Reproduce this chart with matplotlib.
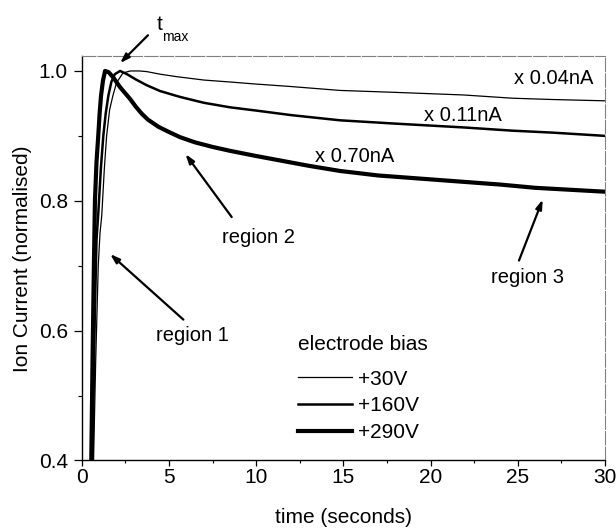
import matplotlib
matplotlib.use("Agg")
import matplotlib.pyplot as plt
from matplotlib.lines import Line2D
from matplotlib.ticker import MultipleLocator

plt.rcParams['font.family'] = ['Liberation Sans', 'DejaVu Sans']

# ---- data ----
t_290 = [0.55, 0.62, 0.70, 0.76, 0.85, 0.95, 1.03, 1.11, 1.22, 1.34, 1.55, 1.81, 2.20, 2.77,
         3.10, 3.45, 3.80, 4.40, 5.00, 5.64, 6.50, 7.50, 8.50, 10.0, 11.4, 13.0, 14.8, 17.0,
         19.5, 22.0, 24.0, 26.0, 28.0, 30.0]
y_290 = [0.40, 0.55, 0.70, 0.80, 0.86, 0.90, 0.935, 0.962, 0.985, 1.000, 0.998, 0.990, 0.975,
         0.957, 0.945, 0.934, 0.925, 0.914, 0.906, 0.898, 0.890, 0.883, 0.877, 0.869, 0.862,
         0.854, 0.846, 0.839, 0.834, 0.829, 0.825, 0.820, 0.817, 0.814]

t_160 = [0.62, 0.75, 0.85, 0.95, 1.10, 1.24, 1.38, 1.53, 1.70, 1.90, 2.20, 2.60, 3.10, 3.73,
         4.50, 5.64, 7.00, 8.50, 10.0, 12.0, 14.8, 17.9, 21.9, 24.7, 27.0, 30.0]
y_160 = [0.40, 0.62, 0.74, 0.78, 0.85, 0.90, 0.935, 0.962, 0.983, 0.995, 1.000, 0.995, 0.987,
         0.978, 0.969, 0.960, 0.951, 0.944, 0.939, 0.932, 0.924, 0.919, 0.913, 0.908, 0.905, 0.900]

t_30 = [0.68, 0.80, 0.95, 1.05, 1.15, 1.30, 1.43, 1.60, 1.79, 2.00, 2.37, 2.80, 3.30, 3.73,
        4.50, 5.50, 7.00, 8.50, 9.9, 12.0, 14.8, 18.0, 21.9, 24.7, 27.0, 30.0]
y_30 = [0.40, 0.55, 0.70, 0.75, 0.777, 0.85, 0.90, 0.94, 0.962, 0.982, 0.997, 1.000, 1.000,
        0.999, 0.995, 0.991, 0.986, 0.983, 0.980, 0.976, 0.970, 0.967, 0.963, 0.958, 0.956, 0.954]

series_labels = ['+30V', '+160V', '+290V']
scale_labels = ['x 0.04nA', 'x 0.11nA', 'x 0.70nA']
x_ticks = [0, 5, 10, 15, 20, 25, 30]
y_ticks = [0.4, 0.6, 0.8, 1.0]

# ---- figure ----
fig = plt.figure(figsize=(6.16, 5.29), dpi=100)
ax = fig.add_axes([0.1326, 0.1295, 0.8495, 0.7646])

widths = [0.9, 1.8, 3.0]
ax.plot(t_30, y_30, color='black', lw=widths[0], solid_joinstyle='round')
ax.plot(t_160, y_160, color='black', lw=widths[1], solid_joinstyle='round')
ax.plot(t_290, y_290, color='black', lw=widths[2], solid_joinstyle='round')

ax.set_xlim(0, 30)
ax.set_ylim(0.4, 1.023)
ax.set_xticks(x_ticks)
ax.set_yticks(y_ticks)
ax.set_xticklabels([str(v) for v in x_ticks])
ax.set_yticklabels([f'{v:.1f}' for v in y_ticks])
ax.xaxis.set_minor_locator(MultipleLocator(2.5))
ax.yaxis.set_minor_locator(MultipleLocator(0.1))
ax.tick_params(axis='x', which='major', direction='out', length=4.5, width=0.9, pad=1, labelsize=15)
ax.tick_params(axis='y', which='major', direction='out', length=5.5, width=0.9, pad=4.5, labelsize=15)
ax.tick_params(axis='x', which='minor', direction='out', length=2.2, width=0.8)
ax.tick_params(axis='y', which='minor', direction='out', length=3.0, width=0.8)

for s in ['left', 'bottom']:
    ax.spines[s].set_linewidth(1.0)
    ax.spines[s].set_color('black')
for s in ['top', 'right']:
    ax.spines[s].set_linewidth(0.8)
    ax.spines[s].set_color('#808080')
    ax.spines[s].set_linestyle((0, (12, 2)))

ax.set_xlabel('time (seconds)', fontsize=15, labelpad=15)
ax.set_ylabel('Ion Current (normalised)', fontsize=15, labelpad=5)

# scale factor labels
ax.text(27.08, 0.988, scale_labels[0], fontsize=14.5, ha='center', va='center')
ax.text(21.83, 0.932, scale_labels[1], fontsize=14.5, ha='center', va='center')
ax.text(15.65, 0.868, scale_labels[2], fontsize=14.5, ha='center', va='center')

# region annotations
arrow = dict(arrowstyle='-|>,head_length=0.55,head_width=0.18', color='black', lw=1.6,
             shrinkA=0, shrinkB=0)
ax.annotate('', xy=(1.63, 0.718), xytext=(5.83, 0.617), arrowprops=arrow)
ax.text(6.33, 0.593, 'region 1', fontsize=14.5, ha='center', va='center')
ax.annotate('', xy=(5.95, 0.872), xytext=(8.6, 0.775), arrowprops=arrow)
ax.text(10.14, 0.744, 'region 2', fontsize=14.5, ha='center', va='center')
ax.annotate('', xy=(26.43, 0.802), xytext=(25.07, 0.708), arrowprops=arrow)
ax.text(25.57, 0.682, 'region 3', fontsize=14.5, ha='center', va='center')

# t_max annotation
ax.annotate('', xy=(2.20, 1.012), xytext=(3.80, 1.055), arrowprops=arrow,
            annotation_clip=False)
ax.text(4.49, 1.071, 't', fontsize=15, ha='center', va='center', clip_on=False)
ax.text(5.38, 1.053, 'max', fontsize=10, ha='center', va='center', clip_on=False)

# legend
handles = [Line2D([], [], color='black', lw=w) for w in widths]
leg = ax.legend(handles, series_labels, title='electrode bias', frameon=False,
                fontsize=15, title_fontsize=15, loc='upper left',
                bbox_to_anchor=(0.413, 0.311), borderpad=0, borderaxespad=0,
                handlelength=2.6, handletextpad=0.3, labelspacing=0.37)
leg._legend_box.align = 'left'
leg._legend_box.sep = 11.5

fig.savefig('out.png', dpi=100)
